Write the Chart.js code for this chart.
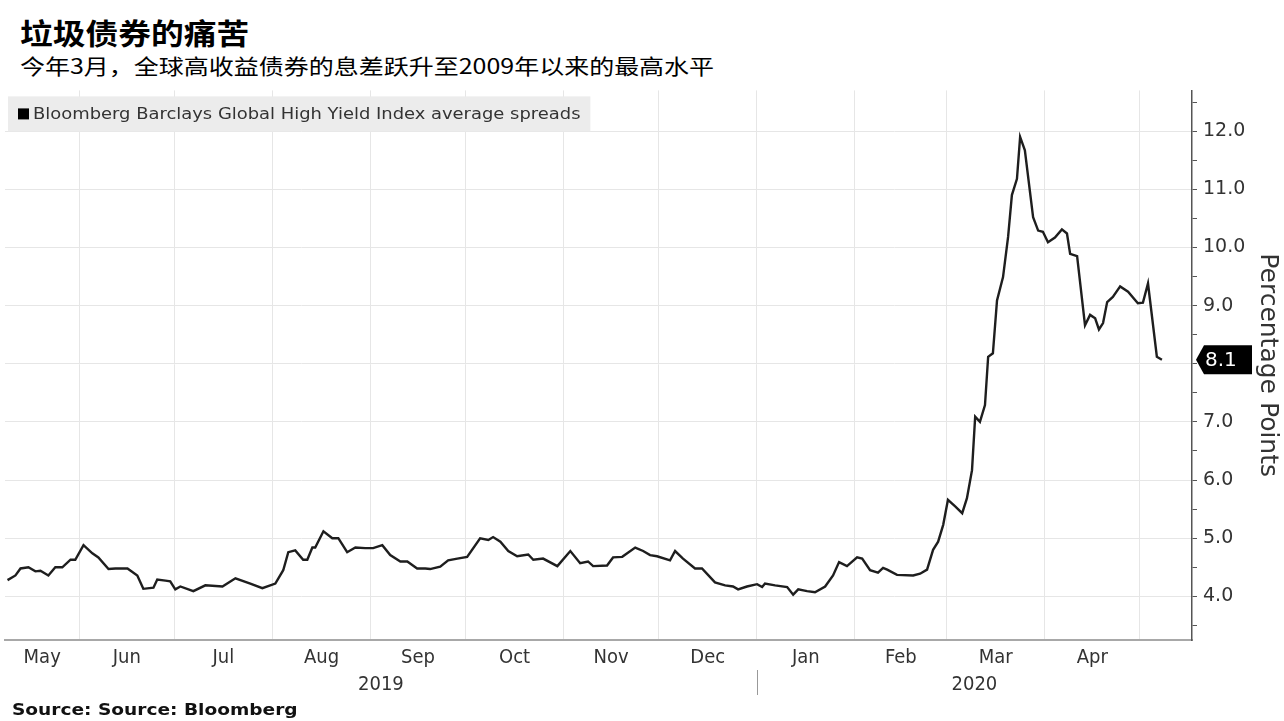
<!DOCTYPE html>
<html>
<head>
<meta charset="utf-8">
<script src="https://cdn.jsdelivr.net/npm/chart.js@4.4.1/dist/chart.umd.min.js"></script>
<style>
  body { margin: 0; background: #fff; width: 1284px; height: 721px; overflow: hidden; position: relative; }
  .txt { position: absolute; white-space: nowrap; transform-origin: left top; color: #000; line-height: 1; }
  #title { left: 20px; top: 11px; font: bold 29px "Noto Sans CJK SC"; transform: scaleX(1.13); }
  #sub { left: 20px; top: 50px; font: 21px "Noto Sans CJK SC"; transform: scaleX(1.19); }
  #src { left: 12px; top: 700px; font: bold 16px "DejaVu Sans"; transform: scaleX(1.16); color: #111; }
  #wrap { position: absolute; left: 0; top: 73px; width: 1284px; height: 648px; }
</style>
</head>
<body>
<div id="title" class="txt">垃圾债券的痛苦</div>
<div id="sub" class="txt">今年3月，全球高收益债券的息差跃升至2009年以来的最高水平</div>
<div id="wrap"><canvas id="chart" width="1284" height="648"></canvas></div>
<div id="src" class="txt">Source: Source: Bloomberg</div>

<script>
// day 0 = 1 May 2019
const seriesName = 'Bloomberg Barclays Global High Yield Index average spreads';

const days = [
  8.3, 10.8, 12.4, 14.9, 17.1, 18.7, 21.2, 23.4, 25.6, 28.2,
  29.7, 32.3, 35.1, 37.0, 40.2, 42.4, 46.2, 49.3, 51.2, 54.4,
  55.6, 58.2, 59.7, 61.3, 62.9, 67.0, 70.8, 76.2, 80.3, 85.0,
  88.8, 91.3, 92.9, 95.4, 97.0, 99.2, 101.7, 103.0, 104.6, 105.5,
  108.1, 110.9, 112.8, 115.6, 118.2, 121.3, 123.8, 126.7, 129.2, 132.4,
  134.6, 137.7, 140.3, 141.8, 145.0, 147.5, 150.4, 153.5, 157.6, 160.2,
  161.7, 164.0, 166.5, 169.3, 172.8, 174.4, 177.5, 182.0, 186.1, 189.2,
  191.7, 193.3, 197.7, 199.6, 202.5, 206.6, 209.1, 211.3, 213.5, 217.6,
  219.2, 221.7, 225.5, 227.7, 231.8, 235.0, 237.5, 239.1, 241.9, 245.1,
  246.7, 247.6, 250.8, 254.6, 256.5, 258.1, 260.9, 263.4, 266.6, 269.1,
  271.0, 273.5, 276.7, 278.3, 280.8, 283.3, 284.9, 286.2, 289.3, 294.4,
  296.6, 298.8, 300.7, 302.3, 303.9, 305.4, 307.6, 309.9, 311.4, 313.0,
  314.0, 315.5, 317.1, 318.1, 319.6, 320.9, 322.8, 324.4, 325.6, 327.2,
  328.2, 329.7, 332.3, 333.9, 335.4, 337.0, 339.2, 341.4, 343.0, 344.0,
  346.2, 348.7, 350.3, 351.9, 353.1, 354.4, 355.7, 357.5, 359.8, 362.3,
  365.4, 367.0, 368.6, 371.4, 373.0
];

const spreads = [
  4.28, 4.36, 4.48, 4.50, 4.43, 4.44, 4.36, 4.50, 4.50, 4.63,
  4.63, 4.88, 4.74, 4.67, 4.47, 4.48, 4.48, 4.36, 4.13, 4.15,
  4.29, 4.27, 4.26, 4.12, 4.17, 4.09, 4.19, 4.17, 4.31, 4.22,
  4.14, 4.19, 4.22, 4.45, 4.76, 4.79, 4.63, 4.63, 4.84, 4.84,
  5.12, 5.00, 5.00, 4.76, 4.84, 4.83, 4.83, 4.88, 4.71, 4.60,
  4.60, 4.48, 4.48, 4.47, 4.51, 4.62, 4.65, 4.68, 5.00, 4.97,
  5.02, 4.94, 4.78, 4.69, 4.72, 4.63, 4.65, 4.52, 4.78, 4.57,
  4.60, 4.52, 4.53, 4.67, 4.68, 4.84, 4.78, 4.71, 4.69, 4.62,
  4.78, 4.65, 4.48, 4.48, 4.24, 4.19, 4.17, 4.12, 4.17, 4.21,
  4.16, 4.22, 4.19, 4.16, 4.03, 4.12, 4.09, 4.07, 4.17, 4.36,
  4.59, 4.52, 4.67, 4.65, 4.45, 4.41, 4.49, 4.46, 4.37, 4.36,
  4.39, 4.46, 4.80, 4.94, 5.23, 5.66, 5.55, 5.43, 5.69, 6.17,
  7.09, 7.00, 7.29, 8.12, 8.18, 9.09, 9.49, 10.18, 10.90, 11.18,
  11.90, 11.67, 10.52, 10.29, 10.27, 10.09, 10.17, 10.31, 10.24, 9.89,
  9.85, 8.66, 8.84, 8.78, 8.59, 8.70, 9.06, 9.15, 9.33, 9.24,
  9.04, 9.05, 9.38, 8.12, 8.07
];

const monthLabels = ['May', 'Jun', 'Jul', 'Aug', 'Sep', 'Oct', 'Nov', 'Dec', 'Jan', 'Feb', 'Mar', 'Apr'];
const monthStarts = [0, 31, 61, 92, 123, 153, 184, 214, 245, 276, 305, 336, 366];
const yearLabels = ['2019', '2020'];
const yearBreak = 245;          // 1 Jan 2020
const yMajorTicks = [4, 5, 6, 7, 8, 9, 10, 11, 12];
const yMinorTicks = [3.5, 4.5, 5.5, 6.5, 7.5, 8.5, 9.5, 10.5, 11.5, 12.5];

const X_MIN = 7.5, X_MAX = 382.5;
const gridColor = '#e6e6e6';
const textColor = '#333';

// month labels sit in the middle of the visible part of each month
const monthTickLabel = new Map();
function monthTicks(scale) {
  const ticks = [];
  monthTickLabel.clear();
  monthStarts.forEach(v => {
    if (v > scale.min && v < scale.max) ticks.push({ value: v });
  });
  monthLabels.forEach((lab, i) => {
    const a = Math.max(monthStarts[i], scale.min);
    const b = Math.min(monthStarts[i + 1], scale.max);
    const mid = (a + b) / 2;
    monthTickLabel.set(mid, lab);
    ticks.push({ value: mid });
  });
  ticks.sort((p, q) => p.value - q.value);
  scale.ticks = ticks;
}

const yearTickLabel = new Map();
function yearTicks(scale) {
  const m1 = (scale.min + yearBreak) / 2;
  const m2 = (yearBreak + scale.max) / 2;
  yearTickLabel.clear();
  yearTickLabel.set(m1, yearLabels[0]);
  yearTickLabel.set(m2, yearLabels[1]);
  scale.ticks = [{ value: m1 }, { value: m2 }];
}

// grey legend strip in the top left of the plot
const legendBox = {
  id: 'legendBox',
  afterDatasetsDraw(chart) {
    const { ctx, chartArea } = chart;
    const x = chartArea.left + 3, y = chartArea.top + 6;
    const sx = 1.12;
    ctx.save();
    ctx.font = '16px "DejaVu Sans"';
    const label = chart.data.datasets[0].label;
    const w = (ctx.measureText(label).width + 24) * sx + 8;
    ctx.fillStyle = '#ececec';
    ctx.fillRect(x, y, w, 35);
    ctx.fillStyle = '#000';
    ctx.fillRect(x + 10, y + 12, 11, 11);
    ctx.translate(x + 25, y + 18);
    ctx.scale(sx, 1);
    ctx.fillStyle = textColor;
    ctx.textBaseline = 'middle';
    ctx.fillText(label, 0, 0);
    ctx.restore();
  }
};

// thin divider between the two years under the axis
const yearDivider = {
  id: 'yearDivider',
  afterDraw(chart) {
    const s = chart.scales.yr;
    const x = Math.round(s.getPixelForValue(yearBreak)) + 0.5;
    const ctx = chart.ctx;
    ctx.save();
    ctx.strokeStyle = '#999';
    ctx.lineWidth = 1;
    ctx.beginPath();
    ctx.moveTo(x, s.top);
    ctx.lineTo(x, s.top + 25);
    ctx.stroke();
    ctx.restore();
  }
};

// black arrow tag with the latest value on the right axis
const lastValueTag = {
  id: 'lastValueTag',
  afterDraw(chart) {
    const { ctx, chartArea } = chart;
    const last = spreads[spreads.length - 1];
    const y = chart.scales.y.getPixelForValue(last);
    const x0 = chartArea.right + 4, h = 29, w = 56;
    ctx.save();
    ctx.fillStyle = '#000';
    ctx.beginPath();
    ctx.moveTo(x0, y);
    ctx.lineTo(x0 + 8, y - h / 2);
    ctx.lineTo(x0 + w, y - h / 2);
    ctx.lineTo(x0 + w, y + h / 2);
    ctx.lineTo(x0 + 8, y + h / 2);
    ctx.closePath();
    ctx.fill();
    ctx.fillStyle = '#fff';
    ctx.font = '20px "DejaVu Sans"';
    ctx.textBaseline = 'middle';
    ctx.fillText(last.toFixed(1), x0 + 9, y + 1);
    ctx.restore();
  }
};

new Chart(document.getElementById('chart'), {
  type: 'line',
  data: {
    datasets: [{
      label: seriesName,
      data: days.map((d, i) => ({ x: d, y: spreads[i] })),
      borderColor: '#1e1e1e',
      borderWidth: 2.4,
      pointRadius: 0,
      tension: 0,
      xAxisID: 'x',
      yAxisID: 'y'
    }]
  },
  options: {
    responsive: false,
    animation: false,
    devicePixelRatio: 1,
    layout: { padding: { left: 5, top: 3, right: 0, bottom: 0 } },
    plugins: { legend: { display: false }, tooltip: { enabled: false } },
    scales: {
      x: {
        type: 'linear',
        position: 'bottom',
        weight: 0,
        min: X_MIN,
        max: X_MAX,
        afterBuildTicks: monthTicks,
        afterFit: s => { s.height = 30; },
        ticks: {
          autoSkip: false,
          maxRotation: 0,
          padding: 6,
          color: textColor,
          font: { family: '"DejaVu Sans Condensed", "DejaVu Sans"', size: 20 },
          callback: v => monthTickLabel.get(v) || ''
        },
        grid: {
          drawTicks: false,
          color: c => (c.tick && monthStarts.includes(c.tick.value)) ? gridColor : 'transparent'
        },
        border: { color: '#a8a8a8', width: 2 }
      },
      yr: {
        type: 'linear',
        position: 'bottom',
        weight: 1,
        min: X_MIN,
        max: X_MAX,
        afterBuildTicks: yearTicks,
        afterFit: s => { s.height = 51; },
        ticks: {
          autoSkip: false,
          maxRotation: 0,
          padding: -5,
          color: textColor,
          font: { family: '"DejaVu Sans Condensed", "DejaVu Sans"', size: 20 },
          callback: v => yearTickLabel.get(v) || ''
        },
        grid: { display: false },
        border: { display: false }
      },
      y: {
        type: 'linear',
        position: 'right',
        min: 3.25,
        max: 12.7,
        afterBuildTicks: s => {
          s.ticks = yMajorTicks.concat(yMinorTicks).sort((a, b) => a - b).map(v => ({ value: v }));
        },
        afterFit: s => { s.width = 92; },
        ticks: {
          autoSkip: false,
          padding: 6,
          color: textColor,
          font: { family: '"DejaVu Sans"', size: 19 },
          callback: v => yMajorTicks.includes(v) ? v.toFixed(1) : ''
        },
        grid: {
          tickLength: 5,
          tickColor: '#555',
          color: c => (c.tick && yMajorTicks.includes(c.tick.value)) ? gridColor : 'transparent'
        },
        border: { color: '#555', width: 1.5 },
        title: {
          display: true,
          text: 'Percentage Points',
          color: textColor,
          font: { family: '"DejaVu Sans"', size: 25 },
          padding: { top: 2, bottom: 0 }
        }
      }
    }
  },
  plugins: [legendBox, yearDivider, lastValueTag]
});
</script>
</body>
</html>
